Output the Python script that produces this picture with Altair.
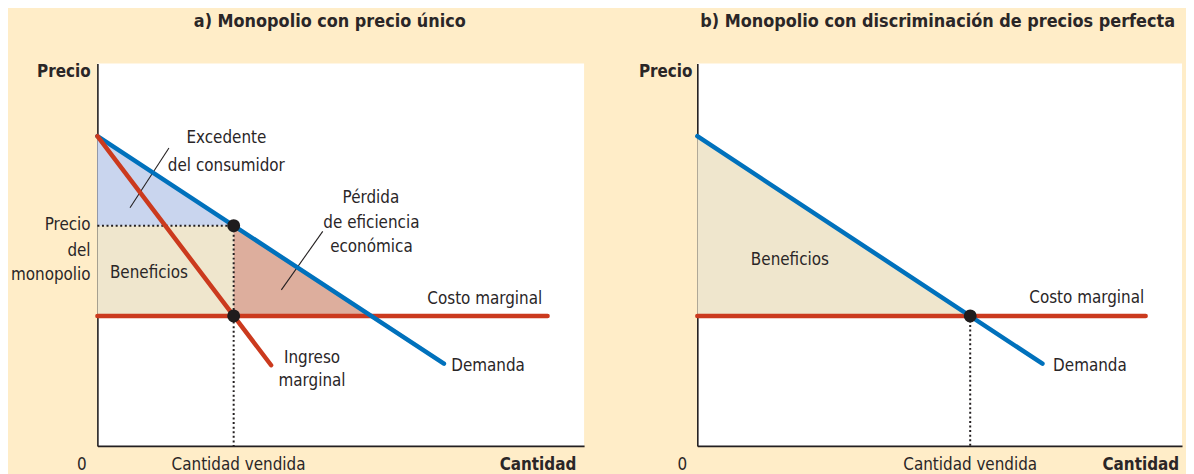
import altair as alt
import pandas as pd

# ---------------- values ----------------
# (price and quantity in arbitrary units, axes run 0..100)
demand_q = [0.0, 71.2]
demand_p = [81.0, 21.5]
mr_q = [0.0, 35.7]
mr_p = [81.0, 21.1]
mc_q = [0.0, 92.5]
mc_p = [34.0, 34.0]

q_mono = 28.0       # quantity sold by single-price monopoly
p_mono = 57.6       # monopoly price
q_comp = 56.3       # quantity where demand meets marginal cost
p_top = 81.0        # demand intercept
mc_level = 34.0

# consumer surplus (panel a)
cs_q = [0.0, q_mono]
cs_top = [p_top, p_mono]
# deadweight loss (panel a)
dwl_q = [q_mono, q_comp]
dwl_top = [p_mono, mc_level]
# profits (panel b, perfect discrimination)
pb_q = [0.0, q_comp]
pb_top = [p_top, mc_level]

# ---------------- styles ----------------
FONT = "Liberation Sans Narrow, Arial Narrow, DejaVu Sans Condensed, sans-serif"
TEXT = "#2a2627"
AX = "#231F20"
BLUE = "#0071BC"
RED = "#CB3A1E"
BG = "#FFEDC8"
CS_FILL = "#C9D5EE"
PROFIT_FILL = "#EFE6CD"
DWL_FILL = "#DDAE9D"

axis_x = alt.Axis(domain=True, domainColor=AX, domainWidth=1.6, ticks=False,
                  labels=False, grid=False, title=None)
axis_y = alt.Axis(domain=True, domainColor=AX, domainWidth=1.6, ticks=False,
                  labels=False, grid=False, title=None)
sx = alt.Scale(domain=[0, 100], nice=False, zero=False)
sy = alt.Scale(domain=[0, 100], nice=False, zero=False)


def X(f):
    return alt.X(f, type="quantitative", scale=sx, axis=axis_x)


def Y(f):
    return alt.Y(f, type="quantitative", scale=sy, axis=axis_y)


def line(qs, ps, color):
    df = pd.DataFrame({"q": qs, "p": ps})
    return alt.Chart(df).mark_line(color=color, strokeWidth=4.5, strokeCap="round").encode(
        x=X("q"), y=Y("p"))


def area(qs, tops, bottom, color):
    df = pd.DataFrame({"q": qs, "p": tops, "b": [bottom] * len(qs)})
    return alt.Chart(df).mark_area(color=color, opacity=1).encode(
        x=X("q"), y=Y("p"), y2="b")


def rect(q0, q1, p0, p1, color):
    df = pd.DataFrame({"q0": [q0], "q1": [q1], "p0": [p0], "p1": [p1]})
    return alt.Chart(df).mark_rect(color=color, opacity=1).encode(
        x=X("q0"), x2="q1", y=Y("p0"), y2="p1")


def segs(rows, dotted=False):
    df = pd.DataFrame(rows, columns=["q0", "p0", "q1", "p1"])
    if dotted:
        m = alt.Chart(df).mark_rule(color=AX, strokeWidth=2, strokeDash=[2, 2.6])
    else:
        m = alt.Chart(df).mark_rule(color=AX, strokeWidth=1.1)
    return m.encode(x=X("q0"), y=Y("p0"), x2="q1", y2="p1")


def dots(qs, ps):
    df = pd.DataFrame({"q": qs, "p": ps})
    return alt.Chart(df).mark_circle(color="#1f1c1d", size=170, opacity=1).encode(
        x=X("q"), y=Y("p"))


def texts(rows, align, bold=False, size=17):
    df = pd.DataFrame(rows, columns=["q", "p", "t"])
    return alt.Chart(df).mark_text(
        align=align, baseline="middle", font=FONT, fontSize=size,
        fontWeight="bold" if bold else "normal", color=TEXT
    ).encode(x=X("q"), y=Y("p"), text="t")


def title(t, dx):
    return alt.TitleParams(text=t, font=FONT, fontSize=18, fontWeight="bold", color=TEXT,
                           anchor="middle", frame="group", baseline="middle",
                           offset=24, dx=dx)


# ---------------- panel a ----------------
panel_a = alt.layer(
    area(cs_q, cs_top, p_mono, CS_FILL),
    rect(0.0, q_mono, mc_level, p_mono, PROFIT_FILL),
    area(dwl_q, dwl_top, mc_level, DWL_FILL),
    segs([[0.0, p_mono, q_mono, p_mono], [q_mono, p_mono, q_mono, 0.0]], dotted=True),
    segs([[14.7, 77.9, 6.7, 62.3], [46.3, 56.1, 37.8, 40.8]]),
    line(mc_q, mc_p, RED),
    line(demand_q, demand_p, BLUE),
    line(mr_q, mr_p, RED),
    dots([q_mono, q_mono], [p_mono, mc_level]),
    texts([[26.5, 80.5, "Excedente"], [26.5, 73.2, "del consumidor"],
           [56.2, 64.9, "Pérdida"], [56.3, 58.2, "de eficiencia"],
           [56.3, 51.9, "económica"], [10.6, 45.2, "Beneficios"],
           [44.1, 23.1, "Ingreso"], [44.1, 16.9, "marginal"],
           [-3.2, -4.9, "0"], [29.0, -4.9, "Cantidad vendida"]], "center"),
    texts([[91.4, 38.4, "Costo marginal"],
           [-1.4, 57.7, "Precio"], [-1.4, 50.9, "del"], [-1.4, 44.7, "monopolio"]], "right"),
    texts([[72.7, 20.8, "Demanda"]], "left"),
    texts([[98.4, -4.9, "Cantidad"], [-1.4, 97.7, "Precio"]], "right", bold=True),
).properties(width=490, height=385, title=title("a) Monopolio con precio único", -11))

# ---------------- panel b ----------------
panel_b = alt.layer(
    area(pb_q, pb_top, mc_level, PROFIT_FILL),
    segs([[q_comp, mc_level, q_comp, 0.0]], dotted=True),
    line(mc_q, mc_p, RED),
    line(demand_q, demand_p, BLUE),
    dots([q_comp], [mc_level]),
    texts([[19.1, 48.6, "Beneficios"],
           [-3.1, -4.9, "0"], [56.3, -4.9, "Cantidad vendida"]], "center"),
    texts([[92.2, 38.7, "Costo marginal"]], "right"),
    texts([[73.4, 20.8, "Demanda"]], "left"),
    texts([[99.4, -4.9, "Cantidad"], [-1.0, 97.7, "Precio"]], "right", bold=True),
).properties(width=488, height=385,
             title=title("b) Monopolio con discriminación de precios perfecta", -2))

chart = alt.hconcat(
    panel_a, panel_b, spacing=114, bounds="flush",
    autosize=alt.AutoSizeParams(type="none"),
    padding={"left": 90, "top": 53, "right": 1096, "bottom": 413},
).configure(background=BG).configure_view(fill="white", strokeWidth=0)

chart.save("out.html", embed_options={"renderer": "svg", "actions": False})
